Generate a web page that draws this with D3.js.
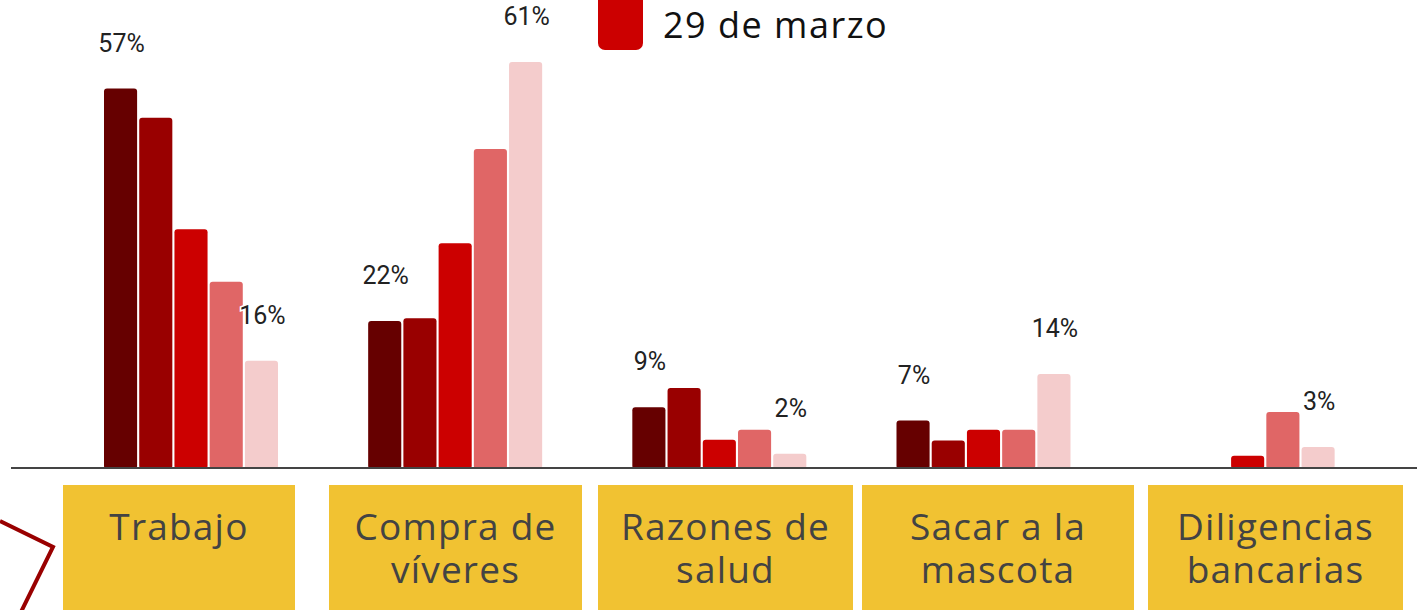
<!DOCTYPE html>
<html>
<head>
<meta charset="utf-8">
<script src="https://cdn.jsdelivr.net/npm/d3@7"></script>
<style>
  body { margin: 0; background: #fff; }
  svg { display: block; }
</style>
</head>
<body>
<script>
// categories and series
var categories = ["Trabajo", "Compra de víveres", "Razones de salud", "Sacar a la mascota", "Diligencias bancarias"];
var categoryLines = [["Trabajo"], ["Compra de", "víveres"], ["Razones de", "salud"], ["Sacar a la", "mascota"], ["Diligencias", "bancarias"]];
var series = ["s1", "s2", "s3", "s4", "29 de marzo"];
var colors = ["#660000", "#990000", "#cc0000", "#e06666", "#f4cccc"];

// values (%) per series, in category order
var s1 = [57, 22, 9, 7, 0];
var s2 = [52.6, 22.4, 11.9, 4, 0];
var s3 = [35.8, 33.7, 4.1, 5.6, 1.7];
var s4 = [27.9, 47.9, 5.6, 5.6, 8.3];
var s5 = [16, 61, 2, 14, 3];
var values = [s1, s2, s3, s4, s5];

// labels shown over first and last bar of each group
var firstLabels = ["57%", "22%", "9%", "7%", null];
var lastLabels = ["16%", "61%", "2%", "14%", "3%"];

var W = 1417, H = 610;
var baseY = 467;

var svg = d3.select("body").append("svg")
    .attr("width", W)
    .attr("height", H);

var x0 = d3.scaleBand().domain(categories).range([104, 1335]).paddingInner(0.34);
var x1 = d3.scaleBand().domain(series).range([0, 174]).paddingInner(0.06);
var y = d3.scaleLinear().domain([0, 61]).range([baseY, 62]);

// bars
var groups = svg.selectAll(".grp")
    .data(categories)
    .enter().append("g")
    .attr("class", "grp")
    .attr("transform", function (d) { return "translate(" + x0(d) + ",0)"; });

groups.selectAll("rect")
    .data(function (d, i) {
        return series.map(function (s, j) { return { s: s, j: j, v: values[j][i] }; });
    })
    .enter().append("rect")
    .filter(function (d) { return d.v > 0; })
    .attr("x", function (d) { return x1(d.s); })
    .attr("y", function (d) { return y(d.v); })
    .attr("width", x1.bandwidth())
    .attr("height", function (d) { return baseY - y(d.v) + 2; })
    .attr("rx", 3)
    .attr("fill", function (d) { return colors[d.j]; });

// value labels
function addLabel(i, j, txt) {
    if (!txt) return;
    svg.append("text")
        .attr("x", x0(categories[i]) + x1(series[j]) + x1.bandwidth() / 2 + 1)
        .attr("y", y(values[j][i]) - 37)
        .attr("text-anchor", "middle")
        .attr("font-family", "Roboto, sans-serif")
        .attr("font-size", 25)
        .attr("fill", "#222")
        .attr("stroke", "#fff")
        .attr("stroke-width", 3)
        .attr("paint-order", "stroke")
        .text(txt);
}
categories.forEach(function (c, i) {
    addLabel(i, 0, firstLabels[i]);
    addLabel(i, 4, lastLabels[i]);
});

// baseline
svg.append("line")
    .attr("x1", 11).attr("x2", W)
    .attr("y1", baseY + 1).attr("y2", baseY + 1)
    .attr("stroke", "#444")
    .attr("stroke-width", 2);

// category boxes
var boxes = [[63, 295], [329, 582], [598, 853], [862, 1134], [1148, 1403]];
boxes.forEach(function (b, i) {
    svg.append("rect")
        .attr("x", b[0]).attr("y", 485)
        .attr("width", b[1] - b[0]).attr("height", 140)
        .attr("fill", "#f1c232");
    categoryLines[i].forEach(function (line, k) {
        svg.append("text")
            .attr("x", (b[0] + b[1]) / 2)
            .attr("y", 540 + k * 43)
            .attr("text-anchor", "middle")
            .attr("font-family", "'Open Sans', sans-serif")
            .attr("font-size", 37)
            .attr("letter-spacing", 1.2)
            .attr("fill", "#434343")
            .text(line);
    });
});

// decorative corner line
svg.append("polyline")
    .attr("points", "0,521 53,547 20,614")
    .attr("fill", "none")
    .attr("stroke", "#990000")
    .attr("stroke-width", 4);

// legend (visible part)
svg.append("rect")
    .attr("x", 598).attr("y", -10)
    .attr("width", 45).attr("height", 60)
    .attr("rx", 7)
    .attr("fill", "#cc0000");
svg.append("text")
    .attr("x", 663).attr("y", 38)
    .attr("font-family", "'Open Sans', sans-serif")
    .attr("font-size", 36)
    .attr("letter-spacing", 1.5)
    .attr("fill", "#111")
    .text("29 de marzo");
</script>
</body>
</html>
